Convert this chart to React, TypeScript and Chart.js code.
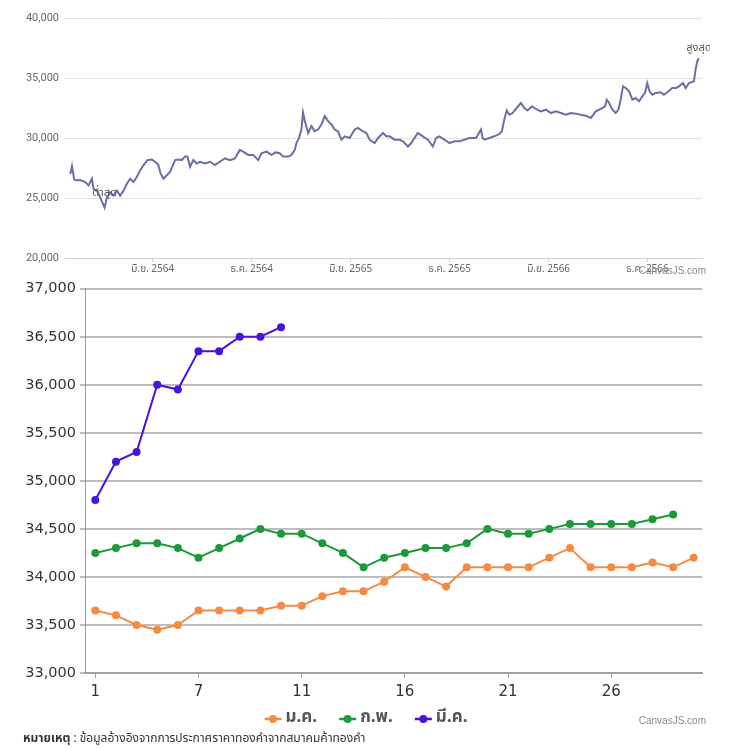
import { useEffect, useRef } from "react";
import { Chart, registerables } from "chart.js";

Chart.register(...registerables);

const thaiFont = "'Noto Sans Thai', 'Noto Sans', Tahoma, sans-serif";

// ราคาทองย้อนหลัง (เดือนนับจาก ม.ค. 2564)
const trendMonths = [
  0, 0.1, 0.24, 0.4, 0.6, 0.91, 1.11, 1.31, 1.41, 1.61, 1.81, 2.08, 2.22, 2.42, 2.62, 2.82,
  3.02, 3.23, 3.43, 3.63, 3.83, 4.03, 4.23, 4.44, 4.68, 4.94, 5.14, 5.34, 5.48, 5.65, 5.85,
  6.05, 6.35, 6.55, 6.75, 6.96, 7.1, 7.26, 7.46, 7.66, 7.86, 8.17, 8.47, 8.77, 9.07, 9.37,
  9.68, 9.98, 10.28, 10.48, 10.79, 11.09, 11.39, 11.59, 11.9, 12.2, 12.45, 12.7, 12.9, 13.21,
  13.41, 13.61, 13.71, 13.87, 14.01, 14.11, 14.22, 14.42, 14.62, 14.82, 15.02, 15.23, 15.43,
  15.63, 15.83, 16.03, 16.23, 16.44, 16.64, 16.94, 17.24, 17.44, 17.75, 17.95, 18.15, 18.45,
  18.66, 18.96, 19.16, 19.36, 19.66, 19.97, 20.17, 20.47, 20.67, 21.07, 21.37, 21.68, 21.98,
  22.18, 22.38, 22.68, 22.99, 23.29, 23.59, 23.89, 24.2, 24.6, 24.9, 25.0, 25.11, 25.41, 25.71,
  26.01, 26.17, 26.31, 26.46, 26.62, 26.82, 27.06, 27.32, 27.53, 27.73, 27.99, 28.23, 28.53,
  28.84, 29.14, 29.44, 29.74, 30.05, 30.35, 30.65, 30.95, 31.25, 31.56, 31.86, 32.16, 32.42,
  32.53, 32.67, 32.87, 33.07, 33.23, 33.37, 33.51, 33.67, 33.88, 34.08, 34.28, 34.48, 34.68,
  34.84, 34.98, 35.12, 35.29, 35.49, 35.79, 35.99, 36.26, 36.5, 36.74, 36.9, 37.15, 37.31,
  37.51, 37.81, 37.91, 38.01, 38.11,
];
const trendPrices = [
  27000, 27650, 26520, 26470, 26500, 26330, 26050, 26600, 25760, 25620, 25050, 24200, 25050,
  25480, 25200, 25620, 25200, 25620, 26190, 26600, 26330, 26750, 27300, 27740, 28160, 28200,
  28020, 27740, 27030, 26600, 26900, 27180, 28160, 28200, 28160, 28450, 28450, 27600, 28160,
  27880, 28020, 27880, 28020, 27740, 28020, 28300, 28160, 28300, 29010, 28870, 28590, 28590,
  28160, 28730, 28870, 28590, 28800, 28730, 28450, 28450, 28590, 29010, 29580, 30000, 30700,
  32120, 31410, 30420, 30990, 30560, 30700, 31130, 31840, 31410, 31130, 30700, 30560, 29860,
  30140, 30000, 30700, 30850, 30560, 30420, 29860, 29580, 30000, 30420, 30140, 30140, 29860,
  29860, 29720, 29290, 29580, 30420, 30140, 29860, 29290, 30000, 30140, 29860, 29580, 29720,
  29720, 29860, 30000, 30000, 30700, 30000, 29860, 30000, 30140, 30330, 30560, 31530, 32300,
  31940, 32080, 32500, 32920, 32500, 32300, 32640, 32420, 32220, 32360, 32080, 32220, 32080,
  31940, 32080, 32030, 31940, 31860, 31670, 32220, 32420, 32640, 33190, 32920, 32360, 32080,
  32360, 33190, 34300, 34170, 33890, 33190, 33330, 33060, 33470, 33750, 34580, 33890, 33610,
  33750, 33810, 33610, 33890, 34170, 34170, 34300, 34580, 34170, 34580, 34720, 35690, 36390,
  36650,
];
const trendTickMonths = [5, 11, 17, 23, 29, 35];
const trendTickLabels = ["มิ.ย. 2564", "ธ.ค. 2564", "มิ.ย. 2565", "ธ.ค. 2565", "มิ.ย. 2566", "ธ.ค. 2566"];

// ราคารายวันแยกตามเดือน
const dayTicks = [1, 6, 11, 16, 21, 26];
const dayTickLabels = ["1", "7", "11", "16", "21", "26"];
const monthNames = ["ม.ค.", "ก.พ.", "มี.ค."];
const janPrices = [
  33650, 33600, 33500, 33450, 33500, 33650, 33650, 33650, 33650, 33700, 33700, 33800, 33850,
  33850, 33950, 34100, 34000, 33900, 34100, 34100, 34100, 34100, 34200, 34300, 34100, 34100,
  34100, 34150, 34100, 34200,
];
const febPrices = [
  34250, 34300, 34350, 34350, 34300, 34200, 34300, 34400, 34500, 34450, 34450, 34350, 34250,
  34100, 34200, 34250, 34300, 34300, 34350, 34500, 34450, 34450, 34500, 34550, 34550, 34550,
  34550, 34600, 34650,
];
const marPrices = [34800, 35200, 35300, 36000, 35950, 36350, 36350, 36500, 36500, 36600];

const credit = {
  id: "credit",
  afterDraw(chart: any) {
    const { ctx, width, height } = chart;
    ctx.save();
    ctx.font = "10px 'Liberation Sans', sans-serif";
    ctx.fillStyle = "#8a8a8a";
    ctx.textAlign = "right";
    ctx.textBaseline = "middle";
    ctx.fillText("CanvasJS.com", chart.canvas.id === "top" ? width - 4 : width - 26, height - 9);
    ctx.restore();
  },
};

const extremes = {
  id: "extremes",
  afterDatasetsDraw(chart: any) {
    const { ctx, scales } = chart;
    const lo = trendPrices.indexOf(Math.min(...trendPrices));
    const hi = trendPrices.indexOf(Math.max(...trendPrices));
    ctx.save();
    ctx.font = `11px ${thaiFont}`;
    ctx.fillStyle = "#555";
    ctx.textAlign = "center";
    ctx.textBaseline = "bottom";
    ctx.fillText("ต่ำสุด", scales.x.getPixelForValue(trendMonths[lo]), scales.y.getPixelForValue(trendPrices[lo]) - 8);
    ctx.fillText("สูงสุด", scales.x.getPixelForValue(trendMonths[hi]), scales.y.getPixelForValue(trendPrices[hi]) - 4);
    ctx.restore();
  },
};

const legendBar = {
  id: "legendBar",
  afterDraw(chart: any) {
    const { ctx } = chart;
    const sets = chart.data.datasets;
    ctx.save();
    ctx.font = `bold 17px ${thaiFont}`;
    const sym = 17;
    const items = sets.map((d: any) => sym + 4 + ctx.measureText(d.label).width);
    const total = items.reduce((a: number, b: number) => a + b, 0) + 22 * (items.length - 1);
    let x = 366 - total / 2;
    const y = 443;
    sets.forEach((d: any, i: number) => {
      ctx.strokeStyle = d.borderColor;
      ctx.lineWidth = 2.5;
      ctx.beginPath();
      ctx.moveTo(x, y);
      ctx.lineTo(x + sym, y);
      ctx.stroke();
      ctx.fillStyle = d.borderColor;
      ctx.beginPath();
      ctx.arc(x + sym / 2, y, 4, 0, Math.PI * 2);
      ctx.fill();
      ctx.fillStyle = "#555";
      ctx.textBaseline = "middle";
      ctx.textAlign = "left";
      ctx.fillText(d.label, x + sym + 4, y);
      x += items[i] + 22;
    });
    ctx.restore();
  },
};

function TrendChart() {
  const ref = useRef<HTMLCanvasElement | null>(null);
  useEffect(() => {
    if (!ref.current) return;
    const chart = new Chart(ref.current, {
      type: "line",
      data: {
        datasets: [
          {
            data: trendMonths.map((m, i) => ({ x: m, y: trendPrices[i] })),
            borderColor: "#6a6fa6",
            borderWidth: 2,
            pointRadius: 0,
            tension: 0,
          },
        ],
      },
      options: {
        animation: false,
        responsive: false,
        layout: { padding: { top: 18, right: 8, left: 0, bottom: 0 } },
        plugins: { legend: { display: false }, tooltip: { enabled: false } },
        scales: {
          x: {
            type: "linear",
            min: -0.2,
            max: 38.3,
            afterBuildTicks: (axis: any) => {
              axis.ticks = trendTickMonths.map((v) => ({ value: v }));
            },
            afterFit: (s: any) => {
              s.height = 22;
            },
            ticks: {
              autoSkip: false,
              maxRotation: 0,
              padding: 2,
              color: "#666",
              font: { family: thaiFont, size: 10 },
              callback: (_v: any, i: number) => trendTickLabels[i],
            },
            grid: { drawOnChartArea: false, tickLength: 4, color: "#cfcfcf" },
            border: { display: true, color: "#d6d6d6" },
          },
          y: {
            min: 20000,
            max: 40000,
            afterBuildTicks: (axis: any) => {
              axis.ticks = [20000, 25000, 30000, 35000, 40000].map((v) => ({ value: v }));
            },
            afterFit: (s: any) => {
              s.width = 67;
            },
            ticks: {
              padding: 5,
              color: "#666",
              font: { family: "Roboto, sans-serif", size: 11 },
              callback: (v: any) => Number(v).toLocaleString("en-US"),
            },
            grid: { color: "#e2e2e2", tickLength: 3 },
            border: { display: false },
          },
        },
      },
      plugins: [extremes, credit],
    });
    return () => chart.destroy();
  }, []);
  return <canvas id="top" ref={ref} width={710} height={280} style={{ display: "block" }} />;
}

function DailyChart() {
  const ref = useRef<HTMLCanvasElement | null>(null);
  useEffect(() => {
    if (!ref.current) return;
    const series = [janPrices, febPrices, marPrices];
    const colors = ["#f58a42", "#1c9a3a", "#4a12de"];
    const chart = new Chart(ref.current, {
      type: "line",
      data: {
        datasets: series.map((s, k) => ({
          label: monthNames[k],
          data: s.map((v, i) => ({ x: i + 1, y: v })),
          borderColor: colors[k],
          backgroundColor: colors[k],
          borderWidth: 2,
          pointRadius: 4,
          pointBorderWidth: 0,
          tension: 0,
        })),
      },
      options: {
        animation: false,
        responsive: false,
        layout: { padding: { top: 9, right: 30, left: 0, bottom: 0 } },
        plugins: { legend: { display: false }, tooltip: { enabled: false } },
        scales: {
          x: {
            type: "linear",
            min: 0.5,
            max: 30.4,
            afterBuildTicks: (axis: any) => {
              axis.ticks = dayTicks.map((v) => ({ value: v }));
            },
            afterFit: (s: any) => {
              s.height = 57;
            },
            ticks: {
              autoSkip: false,
              maxRotation: 0,
              padding: 5,
              color: "#333",
              font: { family: "'DejaVu Sans', sans-serif", size: 15 },
              callback: (_v: any, i: number) => dayTickLabels[i],
            },
            grid: { drawOnChartArea: false, tickLength: 5, color: "#aaa" },
            border: { display: true, color: "#a0a0a0", width: 2 },
          },
          y: {
            min: 33000,
            max: 37000,
            afterFit: (s: any) => {
              s.width = 85;
            },
            ticks: {
              stepSize: 500,
              padding: 4,
              color: "#333",
              font: { family: "'DejaVu Sans', sans-serif", size: 14.5 },
              callback: (v: any) => Number(v).toLocaleString("en-US"),
            },
            grid: { color: "#bdbdbd", lineWidth: 2, tickLength: 5 },
            border: { display: true, color: "#9a9a9a", width: 1 },
          },
        },
      },
      plugins: [legendBar, credit],
    });
    return () => chart.destroy();
  }, []);
  return (
    <canvas
      id="bottom"
      ref={ref}
      width={732}
      height={454}
      style={{ display: "block", position: "absolute", left: 0, top: 276 }}
    />
  );
}

export default function App() {
  useEffect(() => {
    document.body.style.margin = "0";
  }, []);
  return (
    <div style={{ position: "relative", width: 732, height: 749, background: "#fff" }}>
      <TrendChart />
      <DailyChart />
      <div
        style={{
          position: "absolute",
          left: 23,
          top: 729,
          fontFamily: thaiFont,
          fontSize: 12,
          color: "#333",
          whiteSpace: "nowrap",
        }}
      >
        <b>หมายเหตุ</b> : ข้อมูลอ้างอิงจากการประกาศราคาทองคำจากสมาคมค้าทองคำ
      </div>
    </div>
  );
}
